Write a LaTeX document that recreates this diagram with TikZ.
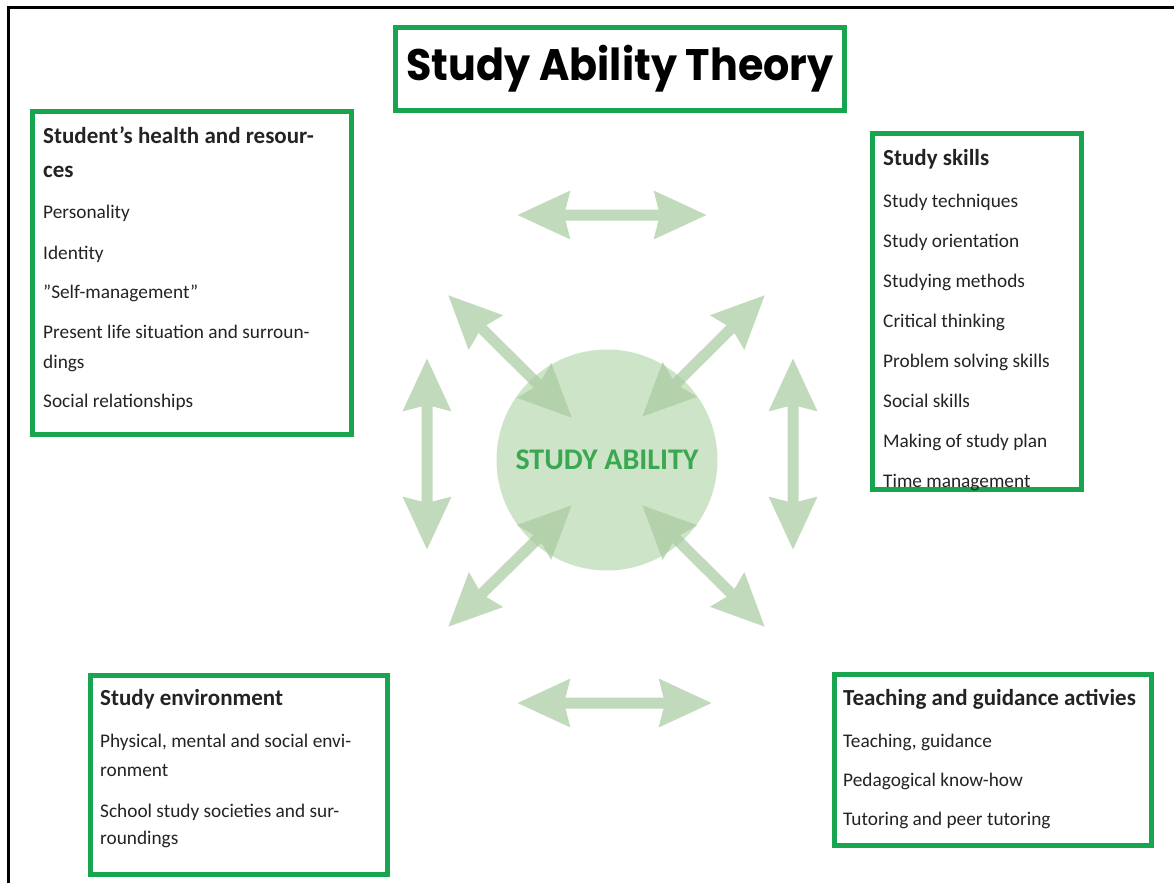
\documentclass[tikz,border=0pt]{standalone}
\usepackage{graphicx}
\usepackage{fontspec}
\setmainfont{Carlito}
\newfontfamily\titlefont{Poppins}
\usepackage{xcolor}
\usepackage{tikz}
\usetikzlibrary{arrows.meta}

\definecolor{boxgreen}{RGB}{23,165,80}
\definecolor{ringfill}{RGB}{206,228,200}
\definecolor{arrowgreen}{RGB}{168,203,159}
\definecolor{abilitytext}{RGB}{58,168,82}
\definecolor{ink}{RGB}{35,35,35}

\begin{document}
\begin{tikzpicture}[x=1pt, y=1pt,
    panel/.style={draw=boxgreen, line width=5.5pt, inner sep=0pt},
    head/.style={font=\bfseries\fontsize{23}{26}\selectfont, text=ink, anchor=base west, inner sep=0pt},
    item/.style={font=\fontsize{19.3}{22}\selectfont, text=ink, anchor=base west, inner sep=0pt},
    twoway/.style={draw=arrowgreen, line width=11pt,
        {Stealth[width=46pt, length=52pt, inset=5pt]}-{Stealth[width=46pt, length=52pt, inset=5pt]}}]
            \useasboundingbox (0,0) rectangle (1174,-883);
            \draw[line width=3pt] (8,-883) -- (8,-8) -- (1174,-8);

            \node[panel, minimum width=449, minimum height=83] (title) at (620,-69)
                {\resizebox*{427pt}{47pt}{\titlefont\bfseries Study Ability Theory}};

            \node[panel, minimum width=319, minimum height=323] (health) at (192,-273) {};
            \node[head] (health-head) at (43,-143) {Student’s health and resour-};
            \node[head] (health-head2) at (43,-177) {ces};
            \foreach \y/\t [count=\i] in {218/Personality, 259/Identity, 298/”Self-management”,
                338/Present life situation and surroun-, 368/dings, 407/Social relationships}
                \node[item] (health-\i) at (43,-\y) {\t};

            \node[panel, minimum width=209, minimum height=356] (skills) at (977,-311.5) {};
            \node[head] (skills-head) at (883,-165) {Study skills};
            \foreach \y/\t [count=\i] in {207/Study techniques, 247/Study orientation, 287/Studying methods,
                327/Critical thinking, 367/Problem solving skills, 407/Social skills,
                447/Making of study plan, 487/Time management}
                \node[item] (skills-\i) at (883,-\y) {\t};

            \node[panel, minimum width=297, minimum height=199] (environment) at (239,-775) {};
            \node[head] (environment-head) at (100,-705) {Study environment};
            \foreach \y/\t [count=\i] in {747/{Physical, mental and social envi-}, 776/ronment,
                817/School study societies and sur-, 844/roundings}
                \node[item] (environment-\i) at (100,-\y) {\t};

            \node[panel, minimum width=317, minimum height=171] (teaching) at (993,-760) {};
            \node[head] (teaching-head) at (843,-705) {Teaching and guidance activies};
            \foreach \y/\t [count=\i] in {747/{Teaching, guidance}, 786/Pedagogical know-how,
                825/Tutoring and peer tutoring}
                \node[item] (teaching-\i) at (843,-\y) {\t};

            \node[circle, fill=ringfill, minimum size=221, inner sep=0pt, text=abilitytext,
                font=\bfseries\fontsize{30}{32}\selectfont] (ability) at (607,-460) {STUDY ABILITY};

            \coordinate (top-l) at (517,-215);  \coordinate (top-r) at (707,-215);
            \coordinate (bot-l) at (517,-703);  \coordinate (bot-r) at (712,-703);
            \coordinate (left-t) at (427,-358); \coordinate (left-b) at (427,-550);
            \coordinate (right-t) at (793,-358); \coordinate (right-b) at (793,-550);
            \coordinate (nw-out) at (448,-295); \coordinate (nw-in) at (572,-418);
            \coordinate (ne-out) at (765,-295); \coordinate (ne-in) at (642,-417);
            \coordinate (sw-out) at (448,-627); \coordinate (sw-in) at (572,-505);
            \coordinate (se-out) at (765,-627); \coordinate (se-in) at (642,-505);

            \begin{scope}[transparency group, opacity=0.7]
                \draw[twoway] (top-l) -- (top-r);
                \draw[twoway] (bot-l) -- (bot-r);
                \draw[twoway] (left-t) -- (left-b);
                \draw[twoway] (right-t) -- (right-b);
                \draw[twoway] (nw-out) -- (nw-in);
                \draw[twoway] (ne-out) -- (ne-in);
                \draw[twoway] (sw-out) -- (sw-in);
                \draw[twoway] (se-out) -- (se-in);
            \end{scope}
        \end{tikzpicture}
\end{document}
